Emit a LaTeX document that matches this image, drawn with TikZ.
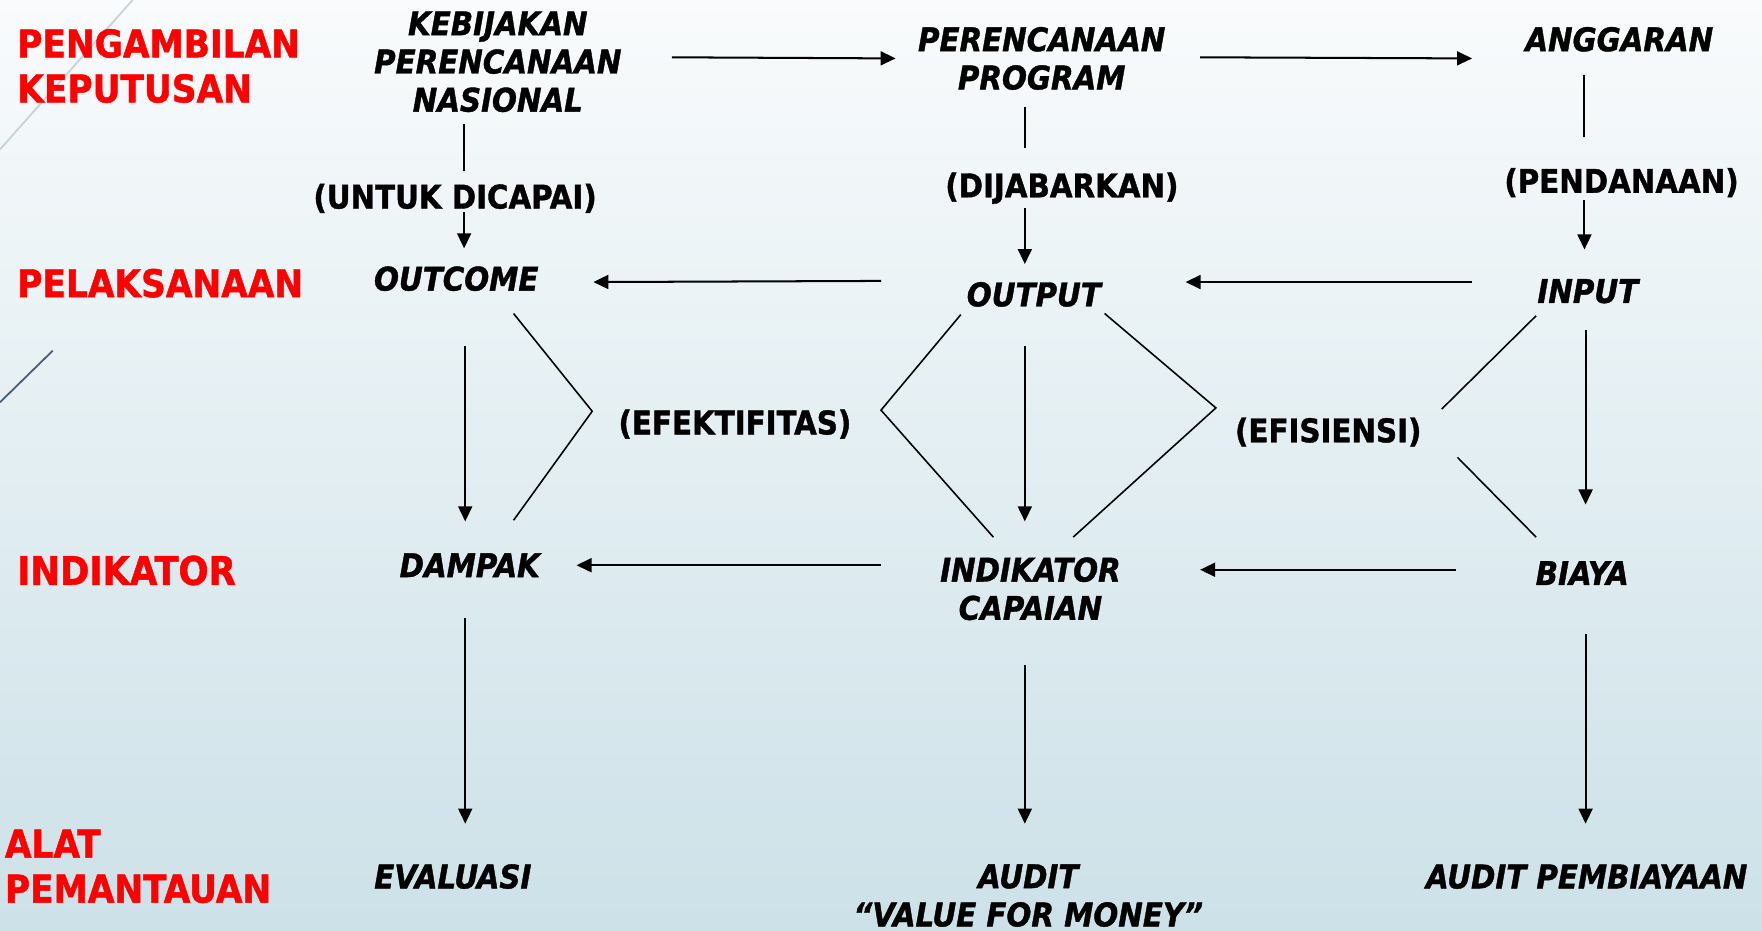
\documentclass[tikz,border=0pt]{standalone}
\usepackage{fontspec}
\setmainfont{DejaVu Sans Condensed}[BoldFont={DejaVu Sans Condensed Bold},BoldItalicFont={DejaVu Sans Condensed Bold Oblique},ItalicFont={DejaVu Sans Condensed Oblique},BoldFeatures={FakeBold=1.2},BoldItalicFeatures={FakeBold=1.2}]
\usetikzlibrary{arrows.meta,calc}
\definecolor{bgtop}{RGB}{249,251,252}
\definecolor{bgbot}{RGB}{204,225,232}
\definecolor{deco1}{RGB}{200,210,218}
\definecolor{deco2}{RGB}{70,95,118}
\tikzset{
  redlbl/.style={font=\fontsize{17}{20}\selectfont\bfseries, text=red, inner sep=0pt, align=left},
  redone/.style={redlbl, text height=12.4pt, text depth=0pt},
  itx/.style={font=\fontsize{14.5}{17}\selectfont\bfseries\itshape, inner sep=0pt, align=center},
  itone/.style={itx, text height=10.57pt, text depth=0pt},
  parlbl/.style={font=\fontsize{14.5}{17}\selectfont\bfseries, inner sep=0pt, text height=10.57pt, text depth=0pt},
  arr/.style={line width=0.9pt, -{Triangle[length=6.7pt,width=6.2pt]}},
  ln/.style={line width=0.9pt},
  brk/.style={line width=0.7pt, line join=miter}
}
\begin{document}
\begin{tikzpicture}[x=0.5pt,y=-0.5pt]
\shade[top color=bgtop, bottom color=bgbot] (0,0) rectangle (1568,828);
\useasboundingbox (0,0) rectangle (1568,828);
\draw[deco1, line width=0.8pt] (118,0) -- (0,133);
\draw[deco2, line width=0.8pt] (47,312) -- (0,358);

% left labels
\node[redlbl, anchor=west] (pk) at (15,58.7) {PENGAMBILAN\\KEPUTUSAN};
\node[redone, anchor=west] (pl) at (15,252) {PELAKSANAAN};
\node[redone, anchor=west, font=\fontsize{17.5}{20}\selectfont\bfseries] (ind) at (15,508) {INDIKATOR};
\node[redlbl, anchor=west] (ap) at (4,771) {ALAT\\PEMANTAUAN};

% main nodes
\node[itx] (keb) at (443,55) {KEBIJAKAN\\PERENCANAAN\\NASIONAL};
\node[itx] (pp) at (927,52) {PERENCANAAN\\PROGRAM};
\node[itone] (ang) at (1441,35) {ANGGARAN};
\node[parlbl] (untuk) at (405,175) {(UNTUK DICAPAI)};
\node[parlbl] (dijab) at (945,165) {(DIJABARKAN)};
\node[parlbl] (pend) at (1443,161) {(PENDANAAN)};
\node[itone] (outcome) at (406,248) {OUTCOME};
\node[itone] (output) at (920,262) {OUTPUT};
\node[itone] (input) at (1413,259) {INPUT};
\node[parlbl] (efek) at (654,376) {(EFEKTIFITAS)};
\node[parlbl] (efis) at (1182,383) {(EFISIENSI)};
\node[itone] (dampak) at (418,503) {DAMPAK};
\node[itx] (indik) at (917,524) {INDIKATOR\\CAPAIAN};
\node[itone] (biaya) at (1408,510) {BIAYA};
\node[itone] (eval) at (403,780) {EVALUASI};
\node[itx] (audit) at (915,797) {AUDIT\\“VALUE FOR MONEY”};
\node[itone] (auditp) at (1412,780) {AUDIT PEMBIAYAAN};

% top row
\draw[arr] ($(keb.center)+(155,-4)$) -- ($(pp.center)+(-130,0)$);
\draw[arr] ($(pp.center)+(141,-1)$) -- ($(ang.center)+(-131,17)$);
% vertical top
\draw[ln] ($(keb.center)+(-30,55)$) -- ($(untuk.center)+(8,-23)$);
\draw[arr] ($(untuk.center)+(8,14)$) -- ($(outcome.center)+(7,-27)$);
\draw[ln] ($(pp.center)+(-15,43)$) -- ($(pp.center)+(-15,80)$);
\draw[arr] ($(dijab.center)+(-33,20)$) -- ($(output.center)+(-8,-27)$);
\draw[ln] ($(ang.center)+(-31,32)$) -- ($(pend.center)+(-33,-39)$);
\draw[arr] ($(pend.center)+(-33,17)$) -- ($(input.center)+(-3,-37)$);
% middle row horizontals
\draw[arr] ($(output.center)+(-136,-12)$) -- ($(outcome.center)+(122,3)$);
\draw[arr] ($(input.center)+(-103,-8)$) -- ($(output.center)+(135,-11)$);
% middle verticals
\draw[arr] ($(outcome.center)+(8,60)$) -- ($(dampak.center)+(-4,-39)$);
\draw[arr] ($(output.center)+(-8,46)$) -- ($(indik.center)+(-5,-60)$);
\draw[arr] ($(input.center)+(-2,35)$) -- ($(biaya.center)+(3,-61)$);
% brackets
\draw[brk] ($(outcome.center)+(51,31)$) -- ($(efek.center)+(-127,-10)$) -- ($(dampak.center)+(39,-40)$);
\draw[brk] ($(output.center)+(-65,18)$) -- ($(efek.center)+(130,-11)$) -- ($(indik.center)+(-33,-46)$);
\draw[brk] ($(output.center)+(63,17)$) -- ($(efis.center)+(-100,-20)$) -- ($(indik.center)+(38,-46)$);
\draw[brk] ($(input.center)+(-46,22)$) -- ($(efis.center)+(101,-19)$);
\draw[brk] ($(efis.center)+(115,24)$) -- ($(biaya.center)+(-41,-32)$);
% indicator row horizontals
\draw[arr] ($(indik.center)+(-133,-21)$) -- ($(dampak.center)+(95,0)$);
\draw[arr] ($(biaya.center)+(-112,-3)$) -- ($(indik.center)+(151,-17)$);
% bottom verticals
\draw[arr] ($(dampak.center)+(-4,47)$) -- ($(eval.center)+(11,-47)$);
\draw[arr] ($(indik.center)+(-5,68)$) -- ($(audit.center)+(-3,-64)$);
\draw[arr] ($(biaya.center)+(3,54)$) -- ($(auditp.center)+(-1,-47)$);
\end{tikzpicture}
\end{document}
